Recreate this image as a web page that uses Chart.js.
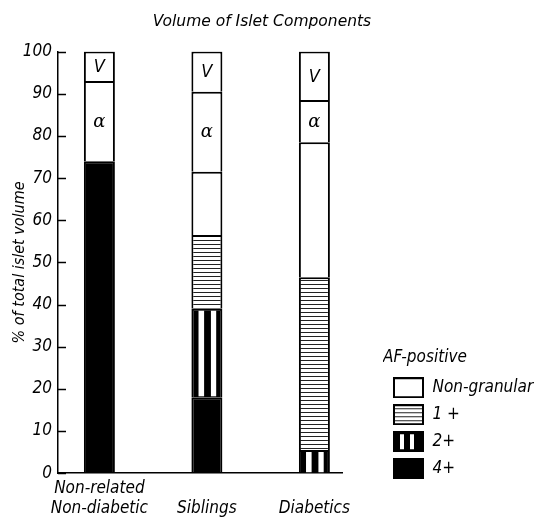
<!DOCTYPE html>
<html>
<head>
<meta charset="utf-8">
<script src="https://cdn.jsdelivr.net/npm/chart.js@4/dist/chart.umd.min.js"></script>
<style>
    body { margin: 0; background: #fff; }
    #wrap { width: 540px; height: 519px; }
</style>
</head>
<body>
<div id="wrap"><canvas id="chart" width="540" height="519"></canvas></div>
<script>
// Volume of islet components, % of total islet volume
const categories = [['Non-related', 'Non-diabetic'], ['', 'Siblings'], ['', 'Diabetics']];
const af4 = [74, 18, 0];
const af2 = [0, 21, 5.5];
const af1 = [0, 17.5, 41];
const nonGranular = [0, 15, 32];
const alphaCells = [19, 19, 10];
const vCells = [7, 9.5, 11.5];
const seriesNames = ['4+', '2+', '1 +', 'Non-granular', 'α', 'V'];

const FONT = "'Liberation Sans Narrow', 'DejaVu Sans Condensed', 'Roboto Condensed', 'Liberation Sans', sans-serif";
const rightGap = 94;
const legendLeft = 383;
const legendDrop = 14;

function makeTile(w, h, draw) {
    const c = document.createElement('canvas');
    c.width = w;
    c.height = h;
    draw(c.getContext('2d'), w, h);
    return c;
}

// horizontal hatch for the 1+ segments
const hatchTile = makeTile(4, 4, (g) => {
    g.fillStyle = '#fff';
    g.fillRect(0, 0, 4, 4);
    g.fillStyle = '#222';
    g.fillRect(0, 0, 4, 1);
});
const hatch = document.createElement('canvas').getContext('2d').createPattern(hatchTile, 'repeat');

// legend icons
function iconBox(fill) {
    return makeTile(31, 21, (g, w, h) => {
        fill(g, w, h);
        g.strokeStyle = '#000';
        g.lineWidth = 2;
        g.strokeRect(1, 1, w - 2, h - 2);
    });
}
const icons = {
    'Non-granular': iconBox((g, w, h) => { g.fillStyle = '#fff'; g.fillRect(0, 0, w, h); }),
    '1 +': iconBox((g, w, h) => { g.fillStyle = hatch; g.fillRect(0, 0, w, h); }),
    '2+': iconBox((g, w, h) => {
        g.fillStyle = '#000'; g.fillRect(0, 0, w, h);
        g.fillStyle = '#fff'; g.fillRect(7, 3, 4, h - 6); g.fillRect(17, 3, 4, h - 6);
    }),
    '4+': iconBox((g, w, h) => { g.fillStyle = '#000'; g.fillRect(0, 0, w, h); })
};

// white vertical stripes in the 2+ segments, the α / V letters, inward y ticks
const segmentPlugin = {
    id: 'segments',
    afterLayout(chart) {
        // legend sits just right of the plot, like the original figure
        const lg = chart.legend;
        lg.left = legendLeft;
        lg.right = chart.width;
        lg.width = lg.right - lg.left;
        lg.top += legendDrop;
        lg.bottom += legendDrop;
    },
    afterDatasetsDraw(chart) {
        const ctx = chart.ctx;
        ctx.save();
        chart.getDatasetMeta(1).data.forEach((bar, i) => {
            if (!af2[i]) return;
            const { x, y, base, width } = bar.getProps(['x', 'y', 'base', 'width'], true);
            const left = x - width / 2;
            ctx.fillStyle = '#fff';
            [[0.23, 0.41], [0.63, 0.8]].forEach(([a, b]) => {
                ctx.fillRect(left + a * width, y + 2, (b - a) * width, base - y - 3);
            });
        });
        [4, 5].forEach(di => {
            const label = chart.data.datasets[di].label;
            chart.getDatasetMeta(di).data.forEach(bar => {
                const { x, y, base } = bar.getProps(['x', 'y', 'base'], true);
                ctx.fillStyle = '#000';
                ctx.font = label === 'α' ? "italic 18px 'DejaVu Serif', serif" : 'italic 18px ' + FONT;
                ctx.textAlign = 'center';
                ctx.textBaseline = 'middle';
                ctx.fillText(label, x, (y + base) / 2 + 1);
            });
        });
        ctx.restore();
    },
    afterDraw(chart) {
        const ys = chart.scales.y;
        const ctx = chart.ctx;
        ctx.save();
        ctx.strokeStyle = '#000';
        ctx.lineWidth = 1.5;
        ys.ticks.forEach(t => {
            const py = Math.round(ys.getPixelForValue(t.value)) + 0.5;
            ctx.beginPath();
            ctx.moveTo(ys.right, py);
            ctx.lineTo(ys.right + 8, py);
            ctx.stroke();
        });
        ctx.restore();
    }
};

function makeDataset(i, values, fill) {
    return {
        label: seriesNames[i],
        data: values,
        backgroundColor: fill,
        borderColor: '#000',
        borderWidth: { left: 2, right: 2, top: 2, bottom: 0 },
        borderSkipped: false,
        barThickness: 31,
        inflateAmount: 0
    };
}

Chart.defaults.color = '#000';
Chart.defaults.font.family = FONT;
Chart.defaults.font.style = 'italic';

new Chart(document.getElementById('chart'), {
    type: 'bar',
    data: {
        labels: categories.map((c, i) => i),
        datasets: [
            makeDataset(0, af4, '#000'),
            makeDataset(1, af2, '#000'),
            makeDataset(2, af1, hatch),
            makeDataset(3, nonGranular, '#fff'),
            makeDataset(4, alphaCells, '#fff'),
            makeDataset(5, vCells, '#fff')
        ]
    },
    plugins: [segmentPlugin],
    options: {
        responsive: false,
        animation: false,
        layout: { padding: { right: 16, bottom: -5 } },
        plugins: {
            title: {
                display: true,
                text: 'Volume of Islet Components',
                font: { family: "'DejaVu Sans', sans-serif", size: 15.5, style: 'italic', weight: 'normal' },
                padding: { top: 13, bottom: 20 }
            },
            tooltip: { enabled: false },
            legend: {
                position: 'right',
                align: 'end',
                fullSize: false,
                reverse: true,
                title: {
                    display: true,
                    text: 'AF-positive',
                    position: 'start',
                    font: { size: 17 },
                    padding: { top: 0, bottom: 0 }
                },
                labels: {
                    usePointStyle: true,
                    pointStyleWidth: 31,
                    padding: 10,
                    font: { size: 17 },
                    generateLabels(chart) {
                        const items = Chart.defaults.plugins.legend.labels.generateLabels(chart);
                        items.forEach(it => { it.pointStyle = icons[it.text]; });
                        return items;
                    },
                    filter: item => item.text in icons
                }
            }
        },
        scales: {
            x: {
                type: 'linear',
                stacked: true,
                offset: false,
                min: -0.385,
                max: 2.263,
                grid: { display: false, drawTicks: false },
                border: { display: true, color: '#000', width: 1.5 },
                afterBuildTicks: scale => { scale.ticks = categories.map((c, i) => ({ value: i })); },
                ticks: {
                    autoSkip: false,
                    maxRotation: 0,
                    padding: 5,
                    font: { size: 17, lineHeight: 1.2 },
                    callback: value => categories[value]
                }
            },
            y: {
                stacked: true,
                min: 0,
                max: 100,
                grid: { display: false, drawTicks: false },
                border: { display: true, color: '#000', width: 1.5 },
                afterFit: scale => { scale.width = 58; },
                ticks: {
                    stepSize: 10,
                    padding: 6,
                    font: { size: 17 }
                },
                title: {
                    display: true,
                    text: '% of total islet volume',
                    font: { size: 16 },
                    padding: { top: 10, bottom: 0 }
                }
            },
            gap: {
                type: 'linear',
                position: 'right',
                display: true,
                grid: { display: false, drawTicks: false },
                border: { display: false },
                ticks: { display: false },
                afterFit: scale => { scale.width = rightGap; }
            }
        }
    }
});
</script>
</body>
</html>
